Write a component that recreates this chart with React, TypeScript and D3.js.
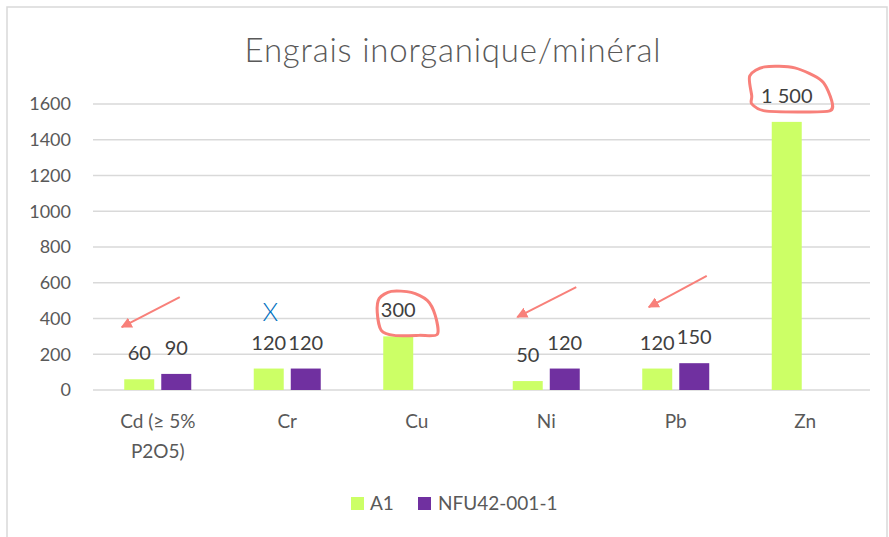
import * as d3 from 'd3';

const categories = ["Cd (≥ 5%\nP2O5)", "Cr", "Cu", "Ni", "Pb", "Zn"];
const seriesNames = ["A1", "NFU42-001-1"];
const a1Values: (number | null)[] = [60, 120, 300, 50, 120, 1500];
const nfuValues: (number | null)[] = [90, 120, null, 120, 150, null];
const yTicks = [0, 200, 400, 600, 800, 1000, 1200, 1400, 1600];
const colors = ["#CCFF66", "#7030A0"];

// hand-drawn overlays: arrows (category, dx, value) and a blue X
const arrows = [
  { cat: 0, tipDx: -36, tipV: 352, tailDx: 22, tailV: 520 },
  { cat: 3, tipDx: -29, tipV: 408, tailDx: 30, tailV: 576 },
  { cat: 4, tipDx: -27, tipV: 464, tailDx: 31, tailV: 638 },
];
const crossMark = { cat: 1, dx: -17, v: 400 };
const circled = [
  { cat: 2, pts: [[-21, -5], [-19, -19], [-7, -26], [13, -25], [29, -17], [37, -2], [39, 17], [21, 18], [-4, 18], [-17, 13]] },
  { cat: 5, pts: [[-35, -7], [-37, -27], [-22, -36], [8, -35], [35, -22], [45, -2], [43, 8], [13, 9], [-22, 8], [-35, 1]] },
];

const W = 889;
const H = 537;
const font = "Lato, 'Noto Sans', sans-serif";
const fmt = d3.formatLocale({ decimal: ",", thousands: " ", grouping: [3], currency: ["", " €"] }).format(",d");

export default function App() {
  const x = d3.scaleBand<string>().domain(categories).range([93, 870]).paddingInner(0);
  const x1 = d3.scaleBand<string>().domain(seriesNames).range([0, 67]).paddingInner(0.19);
  const y = d3.scaleLinear().domain([0, 1600]).range([390, 104]);
  const series = [a1Values, nfuValues];
  const center = (i: number) => (x(categories[i]) as number) + x.bandwidth() / 2;
  const barX = (i: number, s: number) => center(i) - 33.5 + (x1(seriesNames[s]) as number);
  const blob = d3.line().curve(d3.curveCardinalClosed.tension(0.2));

  return (
    <svg width={W} height={H} style={{ position: 'absolute', left: 0, top: 0, background: '#fff' }} fontFamily={font}>
      <defs>
        <marker id="ah" viewBox="0 0 10 10" refX="9" refY="5" markerWidth="5.5" markerHeight="5.5" orient="auto">
          <path d="M0,0 L10,5 L0,10 z" fill="#F8807A" />
        </marker>
      </defs>
      <rect x={7} y={7} width={880} height={540} fill="none" stroke="#D9D9D9" strokeWidth={1.5} />
      <text x={453} y={62} textAnchor="middle" fontSize={33} letterSpacing={0.8} fill="#595959" fontWeight={300}>Engrais inorganique/minéral</text>

      {yTicks.map(t => (
        <g key={t}>
          <line x1={93} x2={870} y1={y(t)} y2={y(t)} stroke="#D9D9D9" strokeWidth={1.5} />
          <text x={71} y={y(t)} dy="0.35em" textAnchor="end" fontSize={18} fill="#595959">{t}</text>
        </g>
      ))}

      {categories.map((c, i) => (
        <text key={c} x={center(i)} y={428} textAnchor="middle" fontSize={19} fill="#595959">
          {c.split("\n").map((l, k) => (
            <tspan key={k} x={center(i)} dy={k === 0 ? 0 : 30}>{l}</tspan>
          ))}
        </text>
      ))}

      {series.map((vals, s) =>
        vals.map((v, i) => v == null ? null : (
          <g key={`${s}-${i}`}>
            <rect x={barX(i, s)} y={y(v)} width={x1.bandwidth()} height={y(0) - y(v)} fill={colors[s]} />
            <text x={barX(i, s) + x1.bandwidth() / 2} y={y(v) - 19} textAnchor="middle" fontSize={20} fill="#404040">{fmt(v)}</text>
          </g>
        ))
      )}

      {circled.map(c => {
        const v = a1Values[c.cat] as number;
        const ax = barX(c.cat, 0) + x1.bandwidth() / 2;
        const ay = y(v) - 19;
        return <path key={c.cat} d={blob(c.pts.map(p => [ax + p[0], ay + p[1]] as [number, number])) as string}
          fill="none" stroke="#F8807A" strokeWidth={3} />;
      })}

      {arrows.map((a, k) => (
        <line key={k} x1={center(a.cat) + a.tailDx} y1={y(a.tailV)} x2={center(a.cat) + a.tipDx} y2={y(a.tipV)}
          stroke="#F8807A" strokeWidth={2} markerEnd="url(#ah)" />
      ))}

      <text x={center(crossMark.cat) + crossMark.dx} y={y(crossMark.v) + 2} textAnchor="middle" fontSize={25} fontWeight={300} fill="#0070C0">X</text>

      <rect x={351} y={497} width={13} height={13} fill={colors[0]} />
      <text x={370} y={510} fontSize={19} fill="#595959">A1</text>
      <rect x={418} y={497} width={13} height={13} fill={colors[1]} />
      <text x={438} y={510} fontSize={19} fill="#595959">NFU42-001-1</text>
    </svg>
  );
}
